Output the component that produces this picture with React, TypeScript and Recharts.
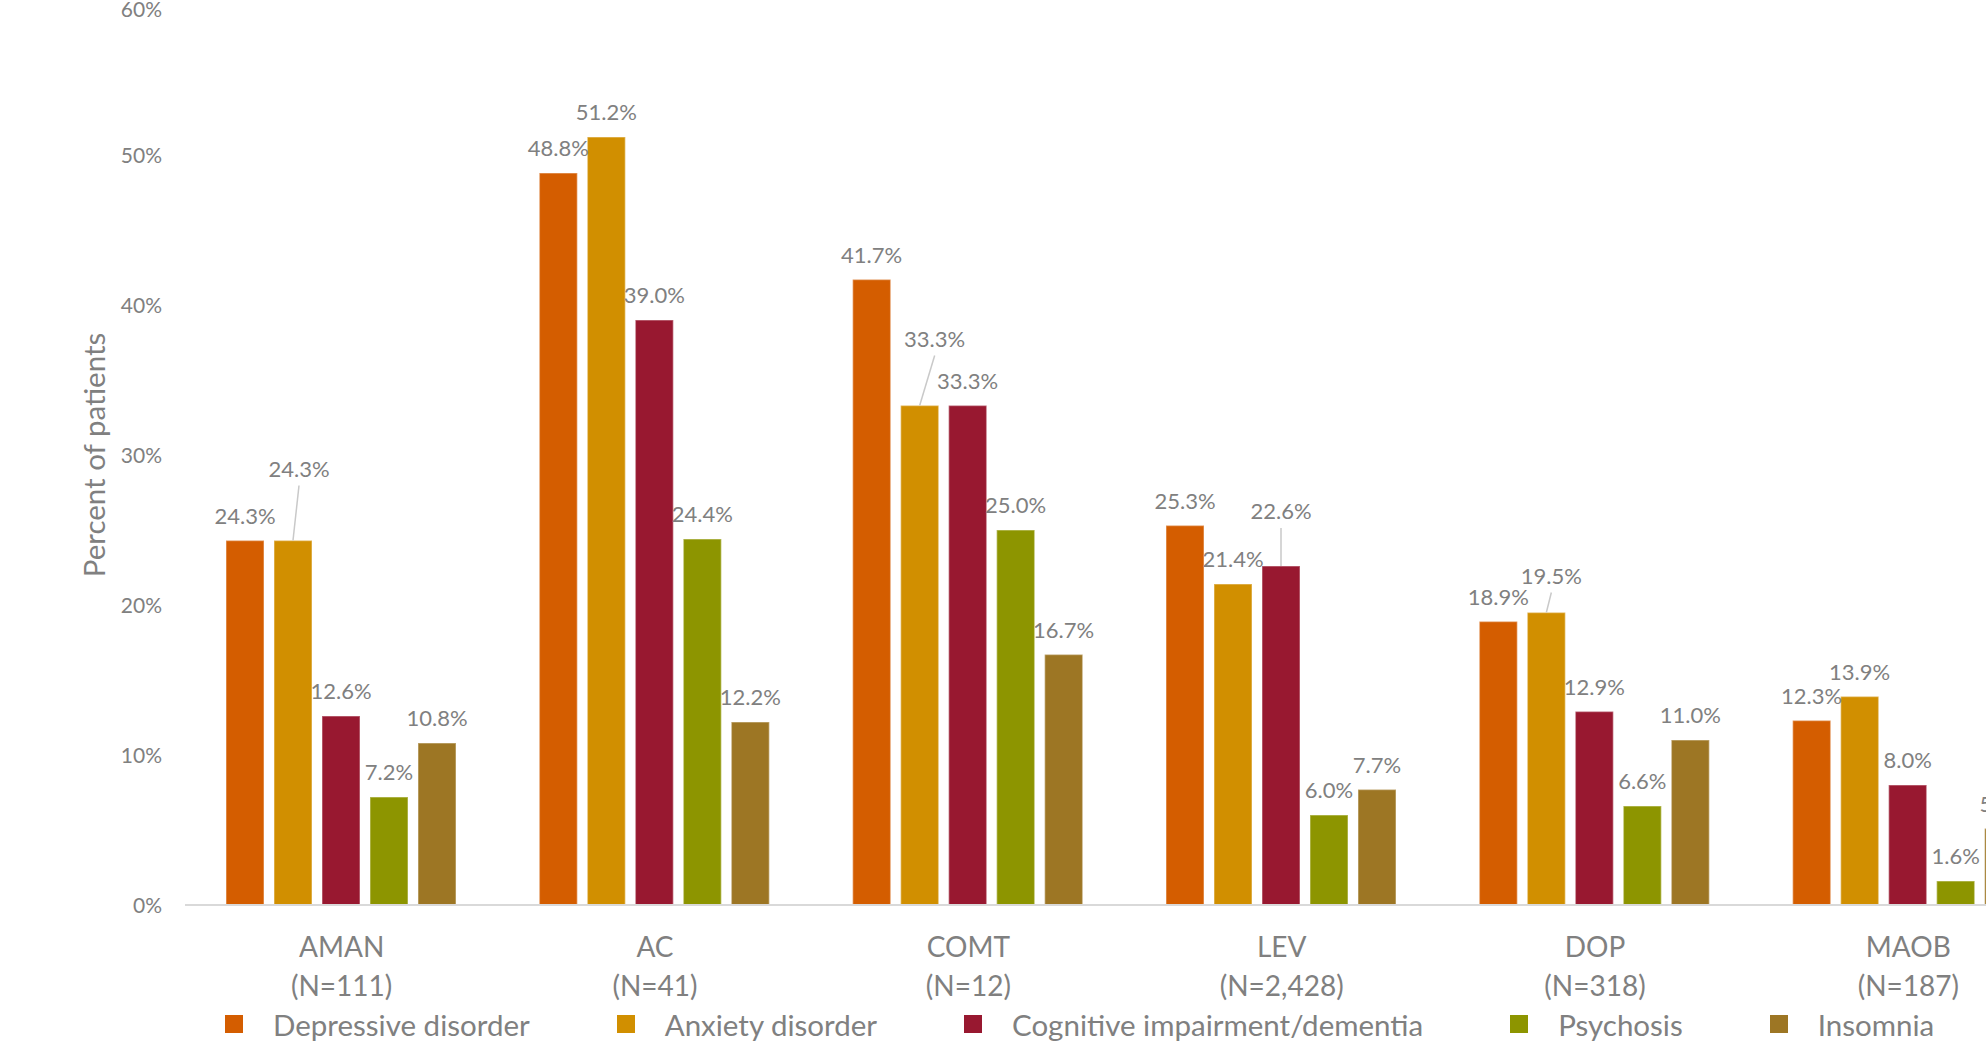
import { BarChart, Bar, XAxis, YAxis, Legend, LabelList } from 'recharts'

// values (percent of patients)
const categories = ['AMAN', 'AC', 'COMT', 'LEV', 'DOP', 'MAOB']
const patientCounts = ['111', '41', '12', '2,428', '318', '187']
const depressive = [24.3, 48.8, 41.7, 25.3, 18.9, 12.3]
const anxiety = [24.3, 51.2, 33.3, 21.4, 19.5, 13.9]
const cognitive = [12.6, 39.0, 33.3, 22.6, 12.9, 8.0]
const psychosis = [7.2, 24.4, 25.0, 6.0, 6.6, 1.6]
const insomnia = [10.8, 12.2, 16.7, 7.7, 11.0, 5.1]
const yTicks = [0, 10, 20, 30, 40, 50, 60]

const series = [
  { key: 'depressive', name: 'Depressive disorder', color: '#D45D00', values: depressive },
  { key: 'anxiety', name: 'Anxiety disorder', color: '#D18F00', values: anxiety },
  { key: 'cognitive', name: 'Cognitive impairment/dementia', color: '#981830', values: cognitive },
  { key: 'psychosis', name: 'Psychosis', color: '#8D9500', values: psychosis },
  { key: 'insomnia', name: 'Insomnia', color: '#9D7624', values: insomnia },
]

const data = categories.map((category, i) => ({
  category,
  depressive: depressive[i],
  anxiety: anxiety[i],
  cognitive: cognitive[i],
  psychosis: psychosis[i],
  insomnia: insomnia[i],
}))

const FONT = 'Lato, "Open Sans", sans-serif'
const GREY = '#808080'

// labels that were dragged up with a leader line: [lift px, x shift px]
const leaderLabels: Record<string, [number, number]> = {
  'anxiety-0': [47, 6],
  'anxiety-2': [42, 15],
  'cognitive-3': [30, 0],
  'anxiety-4': [12, 5],
}

function makeBarLabel(key: string, values: number[]) {
  return (props: any) => {
    const vb = props.viewBox && props.viewBox.width != null ? props.viewBox : props
    const value = Number(props.value)
    const index = props.index != null ? props.index : values.indexOf(value)
    const cx = Number(vb.x) + Number(vb.width) / 2
    const top = Number(vb.y)
    const lead = leaderLabels[`${key}-${index}`]
    const baseline = top - 17 - (lead ? lead[0] : 0)
    const tx = cx + (lead ? lead[1] : 0)
    return (
      <g>
        {lead && (
          <line x1={tx} y1={baseline + 9} x2={cx} y2={top} stroke="#c9c9c9" strokeWidth={1.5} />
        )}
        <text x={tx} y={baseline} textAnchor="middle" fill={GREY} fontSize={22} fontFamily={FONT}>
          {value.toFixed(1)}%
        </text>
      </g>
    )
  }
}

function CategoryTick(props: any) {
  const { x, y, payload } = props
  const i = categories.indexOf(payload.value)
  return (
    <g>
      <text x={x} y={y + 52} textAnchor="middle" fill={GREY} fontSize={28} fontFamily={FONT}>
        {payload.value}
      </text>
      <text x={x} y={y + 91} textAnchor="middle" fill={GREY} fontSize={28} fontFamily={FONT}>
        (N={patientCounts[i]})
      </text>
    </g>
  )
}

function PercentTick(props: any) {
  const { x, y, payload } = props
  return (
    <text x={x} y={y} dy="0.36em" textAnchor="end" fill={GREY} fontSize={21} fontFamily={FONT}>
      {payload.value}%
    </text>
  )
}

function YTitle(props: any) {
  const vb = props.viewBox
  const cx = vb.x + 93
  const cy = vb.y + vb.height / 2
  return (
    <text
      x={cx}
      y={cy}
      transform={`rotate(-90, ${cx}, ${cy})`}
      textAnchor="middle"
      dominantBaseline="central"
      fill={GREY}
      fontSize={29.5}
      fontFamily={FONT}
    >
      Percent of patients
    </text>
  )
}

function LegendContent() {
  return (
    <div style={{ display: 'flex', alignItems: 'center', height: 38, fontFamily: FONT }}>
      {series.map((s) => (
        <div key={s.key} style={{ display: 'flex', alignItems: 'center', marginRight: 87 }}>
          <span style={{ width: 18, height: 18, background: s.color, marginRight: 30, display: 'inline-block' }} />
          <span style={{ fontSize: 29.5, color: GREY, whiteSpace: 'nowrap' }}>{s.name}</span>
        </div>
      ))}
    </div>
  )
}

export default function App() {
  return (
    <div
      style={{
        position: 'absolute',
        left: 0,
        top: 0,
        width: 1986,
        height: 1058,
        overflow: 'hidden',
        background: '#fff',
        fontFamily: FONT,
      }}
    >
      <BarChart
        width={2100}
        height={1058}
        data={data}
        margin={{ top: 5, right: 35, bottom: 0, left: 0 }}
        barCategoryGap={41}
        barGap={10}
      >
        <XAxis
          dataKey="category"
          height={153}
          interval={0}
          tickLine={false}
          tickSize={0}
          tickMargin={0}
          axisLine={{ stroke: '#d9d9d9', strokeWidth: 2 }}
          tick={<CategoryTick />}
        />
        <YAxis
          domain={[0, 60]}
          ticks={yTicks}
          width={185}
          axisLine={false}
          tickLine={false}
          tickSize={0}
          tickMargin={23}
          tick={<PercentTick />}
          label={{ content: YTitle }}
        />
        <Legend
          layout="horizontal"
          verticalAlign="middle"
          align="center"
          wrapperStyle={{ top: 1005, left: 225, width: 1860, height: 38 }}
          content={LegendContent}
        />
        {series.map((s) => (
          <Bar
            key={s.key}
            dataKey={s.key}
            name={s.name}
            fill={s.color}
            stroke="#ffffff"
            strokeOpacity={0.35}
            strokeWidth={1.5}
            isAnimationActive={false}
          >
            <LabelList dataKey={s.key} content={makeBarLabel(s.key, s.values)} />
          </Bar>
        ))}
      </BarChart>
    </div>
  )
}
